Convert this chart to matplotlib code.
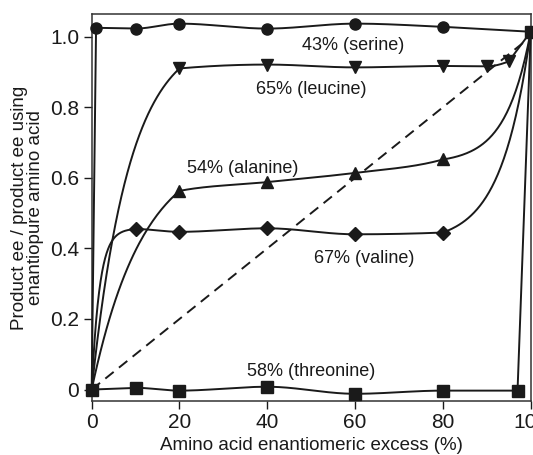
import numpy as np
import matplotlib
matplotlib.use("Agg")
import matplotlib.pyplot as plt

plt.rcParams['font.family'] = ['Liberation Sans', 'DejaVu Sans']

# amino acid ee (%) vs product ee normalised to the enantiopure case
serine_x = [0, 1, 10, 20, 40, 60, 80, 100]
serine_y = [0, 1.025, 1.023, 1.037, 1.023, 1.037, 1.028, 1.014]
leucine_x = [0, 20, 40, 60, 80, 90, 95, 100]
leucine_y = [0, 0.91, 0.921, 0.913, 0.917, 0.916, 0.93, 1.014]
alanine_x = [0, 20, 40, 60, 80, 100]
alanine_y = [0, 0.563, 0.588, 0.614, 0.652, 1.014]
valine_x = [0, 10, 20, 40, 60, 80, 100]
valine_y = [0, 0.455, 0.447, 0.457, 0.44, 0.445, 1.014]
threonine_x = [0, 10, 20, 40, 60, 80, 97, 100]
threonine_y = [0, 0.005, -0.003, 0.008, -0.012, -0.003, -0.003, 1.014]
diag_x = [0, 100]
diag_y = [0, 1.0]

labels = ['43% (serine)', '65% (leucine)', '54% (alanine)', '67% (valine)', '58% (threonine)']
label_x = [59.5, 50, 34.5, 62, 50]
label_y = [0.976, 0.849, 0.627, 0.372, 0.052]

yticks = [0, 0.2, 0.4, 0.6, 0.8, 1.0]
yticklabels = ['0', '0.2', '0.4', '0.6', '0.8', '1.0']
xticks = [0, 20, 40, 60, 80, 100]


def smooth_curve(xs, ys, rise=None, climb=None, n=60):
    # hand-drawn look: fast rise at start, fast climb at the end, soft in between
    xs = np.asarray(xs, float)
    ys = np.asarray(ys, float)
    d = np.diff(ys) / np.diff(xs)
    m = np.zeros_like(xs)
    for i in range(1, len(xs) - 1):
        if d[i - 1] * d[i] > 0:
            m[i] = 2 / (1 / d[i - 1] + 1 / d[i])
    px, py = [], []
    last = len(xs) - 2
    for i in range(len(xs) - 1):
        t = np.linspace(0, 1, n)
        x0, x1, y0, y1 = xs[i], xs[i + 1], ys[i], ys[i + 1]
        h = x1 - x0
        if i == 0 and rise:
            s = (1 - np.exp(-rise * t)) / (1 - np.exp(-rise))
            yy = y0 + (y1 - y0) * s
        elif i == last and climb:
            s = (np.exp(climb * t) - 1) / (np.exp(climb) - 1)
            yy = y0 + (y1 - y0) * s
        elif i == 0 or i == last:
            yy = y0 + (y1 - y0) * t
        else:
            h00 = 2 * t**3 - 3 * t**2 + 1
            h10 = t**3 - 2 * t**2 + t
            h01 = -2 * t**3 + 3 * t**2
            h11 = t**3 - t**2
            yy = h00 * y0 + h10 * h * m[i] + h01 * y1 + h11 * h * m[i + 1]
        px.extend(x0 + h * t)
        py.extend(yy)
    return px, py


fig = plt.figure(figsize=(5.33, 4.55), dpi=100)
ax = fig.add_axes([0.172, 0.119, 0.8237, 0.850])

ax.plot(diag_x, diag_y, color='#1a1a1a', lw=1.4, ls=(0, (5.5, 3.5)), zorder=2)

series = [
    (serine_x, serine_y, 'o', 8, None, None, slice(1, -1)),
    (leucine_x, leucine_y, 'v', 9, 2.3, None, slice(1, -1)),
    (alanine_x, alanine_y, '^', 9, 1.7, 3.5, slice(1, -1)),
    (valine_x, valine_y, 'D', 7, 5.5, 3.0, slice(1, -1)),
    (threonine_x, threonine_y, 's', 9, None, None, slice(0, None)),
]
for xs, ys, mk, ms, rise, climb, every in series:
    cx, cy = smooth_curve(xs, ys, rise, climb)
    ax.plot(cx, cy, color='#1a1a1a', lw=1.4, zorder=3, clip_on=False)
    ax.plot(np.asarray(xs)[every], np.asarray(ys)[every], ls='none', marker=mk,
            ms=ms, color='#1a1a1a', zorder=4, clip_on=False)

for txt, tx, ty in zip(labels, label_x, label_y):
    ax.text(tx, ty, txt, ha='center', va='center', fontsize=13, color='#1a1a1a')

ax.set_xlim(0, 100)
ax.set_ylim(-0.032, 1.064)
ax.set_xticks(xticks)
ax.set_yticks(yticks)
ax.set_yticklabels(yticklabels)
ax.tick_params(direction='out', length=6, width=1, labelsize=15, colors='#1a1a1a', pad=3)
for sp in ax.spines.values():
    sp.set_linewidth(1.1)
    sp.set_color('#333333')

ax.set_xlabel('Amino acid enantiomeric excess (%)', fontsize=13.5, labelpad=3, color='#1a1a1a')
ax.set_ylabel('Product ee / product ee using\nenantiopure amino acid', fontsize=13.5,
              labelpad=4, color='#1a1a1a', linespacing=0.95)

fig.savefig('out.png', dpi=100)
